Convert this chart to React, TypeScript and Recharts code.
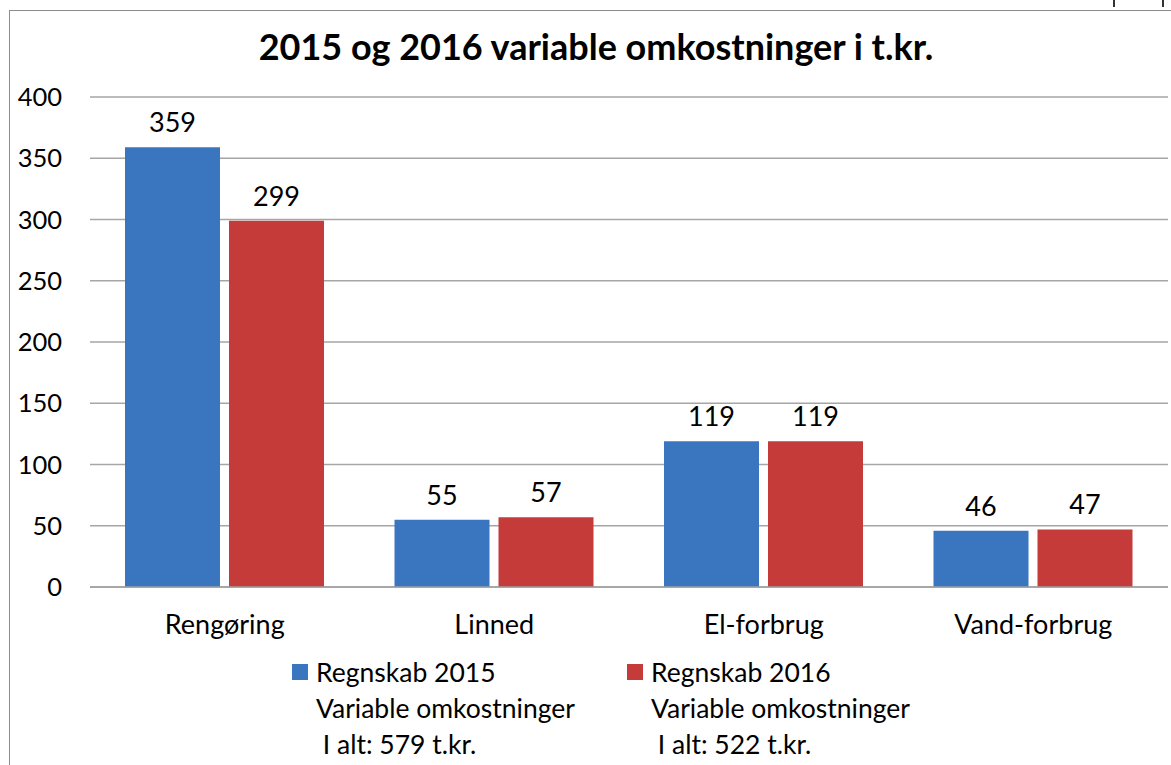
import React from "react";
import { Bar, BarChart, CartesianGrid, LabelList, Legend, XAxis, YAxis } from "recharts";

const categories = ["Rengøring", "Linned", "El-forbrug", "Vand-forbrug"];
const regnskab2015 = [359, 55, 119, 46];
const regnskab2016 = [299, 57, 119, 47];
const yTicks = [0, 50, 100, 150, 200, 250, 300, 350, 400];
const seriesKeys = ["r2015", "r2016"];
const seriesColors = ["#3A75BF", "#C43B3A"];
const legendLines = [
  ["Regnskab 2015", "Variable omkostninger", " I alt: 579 t.kr."],
  ["Regnskab 2016", "Variable omkostninger", " I alt: 522 t.kr."],
];
const title = "2015 og 2016 variable omkostninger i t.kr.";

const data = categories.map((name, i) => ({
  name,
  r2015: regnskab2015[i],
  r2016: regnskab2016[i],
}));

const FONT = "Lato, 'Open Sans', sans-serif";

function LegendBox() {
  return (
    <div style={{ height: 110, position: "relative", fontFamily: FONT, fontSize: 26.5, color: "#000" }}>
      {legendLines.map((lines, i) => (
        <div key={i} style={{ position: "absolute", left: i === 0 ? 292 : 627, top: 7 }}>
          {lines.map((line, j) => (
            <div key={j} style={{ height: 36, lineHeight: "36px", whiteSpace: "pre", display: "flex", alignItems: "center" }}>
              <span
                style={{
                  display: "inline-block",
                  width: 16,
                  height: 16,
                  marginRight: 8,
                  background: j === 0 ? seriesColors[i] : "transparent",
                }}
              />
              {line}
            </div>
          ))}
        </div>
      ))}
    </div>
  );
}

export default function App() {
  return (
    <div style={{ position: "absolute", left: 0, top: 0, width: 1171, height: 765, background: "#fff", overflow: "hidden" }}>
      <div style={{ position: "absolute", left: 9, top: 10, width: 1162, height: 1, background: "#8c8c8c" }} />
      <div style={{ position: "absolute", left: 9, top: 10, width: 1, height: 755, background: "#8c8c8c" }} />
      <div style={{ position: "absolute", left: 1113, top: 0, width: 2, height: 7, background: "#333" }} />
      <div style={{ position: "absolute", left: 1162, top: 0, width: 2, height: 7, background: "#333" }} />
      <div
        style={{
          position: "absolute",
          left: 0,
          width: 1192,
          top: 26,
          textAlign: "center",
          fontFamily: FONT,
          fontWeight: 700,
          fontSize: 36,
          lineHeight: "40px",
          color: "#000",
        }}
      >
        {title}
      </div>
      <BarChart
        width={1171}
        height={765}
        data={data}
        margin={{ top: 97, right: 3, left: 0, bottom: 8 }}
        barGap={9}
        barCategoryGap={35}
        style={{ position: "absolute", left: 0, top: 0 }}
      >
        <CartesianGrid vertical={false} stroke="#a6a6a6" strokeWidth={1.5} />
        <XAxis
          dataKey="name"
          height={60}
          tickSize={0}
          tickMargin={28}
          axisLine={{ stroke: "#a0a0a0", strokeWidth: 1.5 }}
          tick={{ fill: "#000", fontSize: 27, fontFamily: FONT }}
        />
        <YAxis
          width={90}
          domain={[0, 400]}
          ticks={yTicks}
          axisLine={false}
          tickLine={false}
          tickSize={20}
          tickMargin={8}
          tick={{ fill: "#000", fontSize: 25.5, fontFamily: FONT }}
        />
        <Legend verticalAlign="bottom" content={() => <LegendBox />} wrapperStyle={{ left: 0, width: 1171 }} />
        {seriesKeys.map((key, i) => (
          <Bar key={key} dataKey={key} fill={seriesColors[i]} isAnimationActive={false}>
            <LabelList dataKey={key} position="top" offset={15} fill="#000" fontSize={27} fontFamily={FONT} />
          </Bar>
        ))}
      </BarChart>
    </div>
  );
}
